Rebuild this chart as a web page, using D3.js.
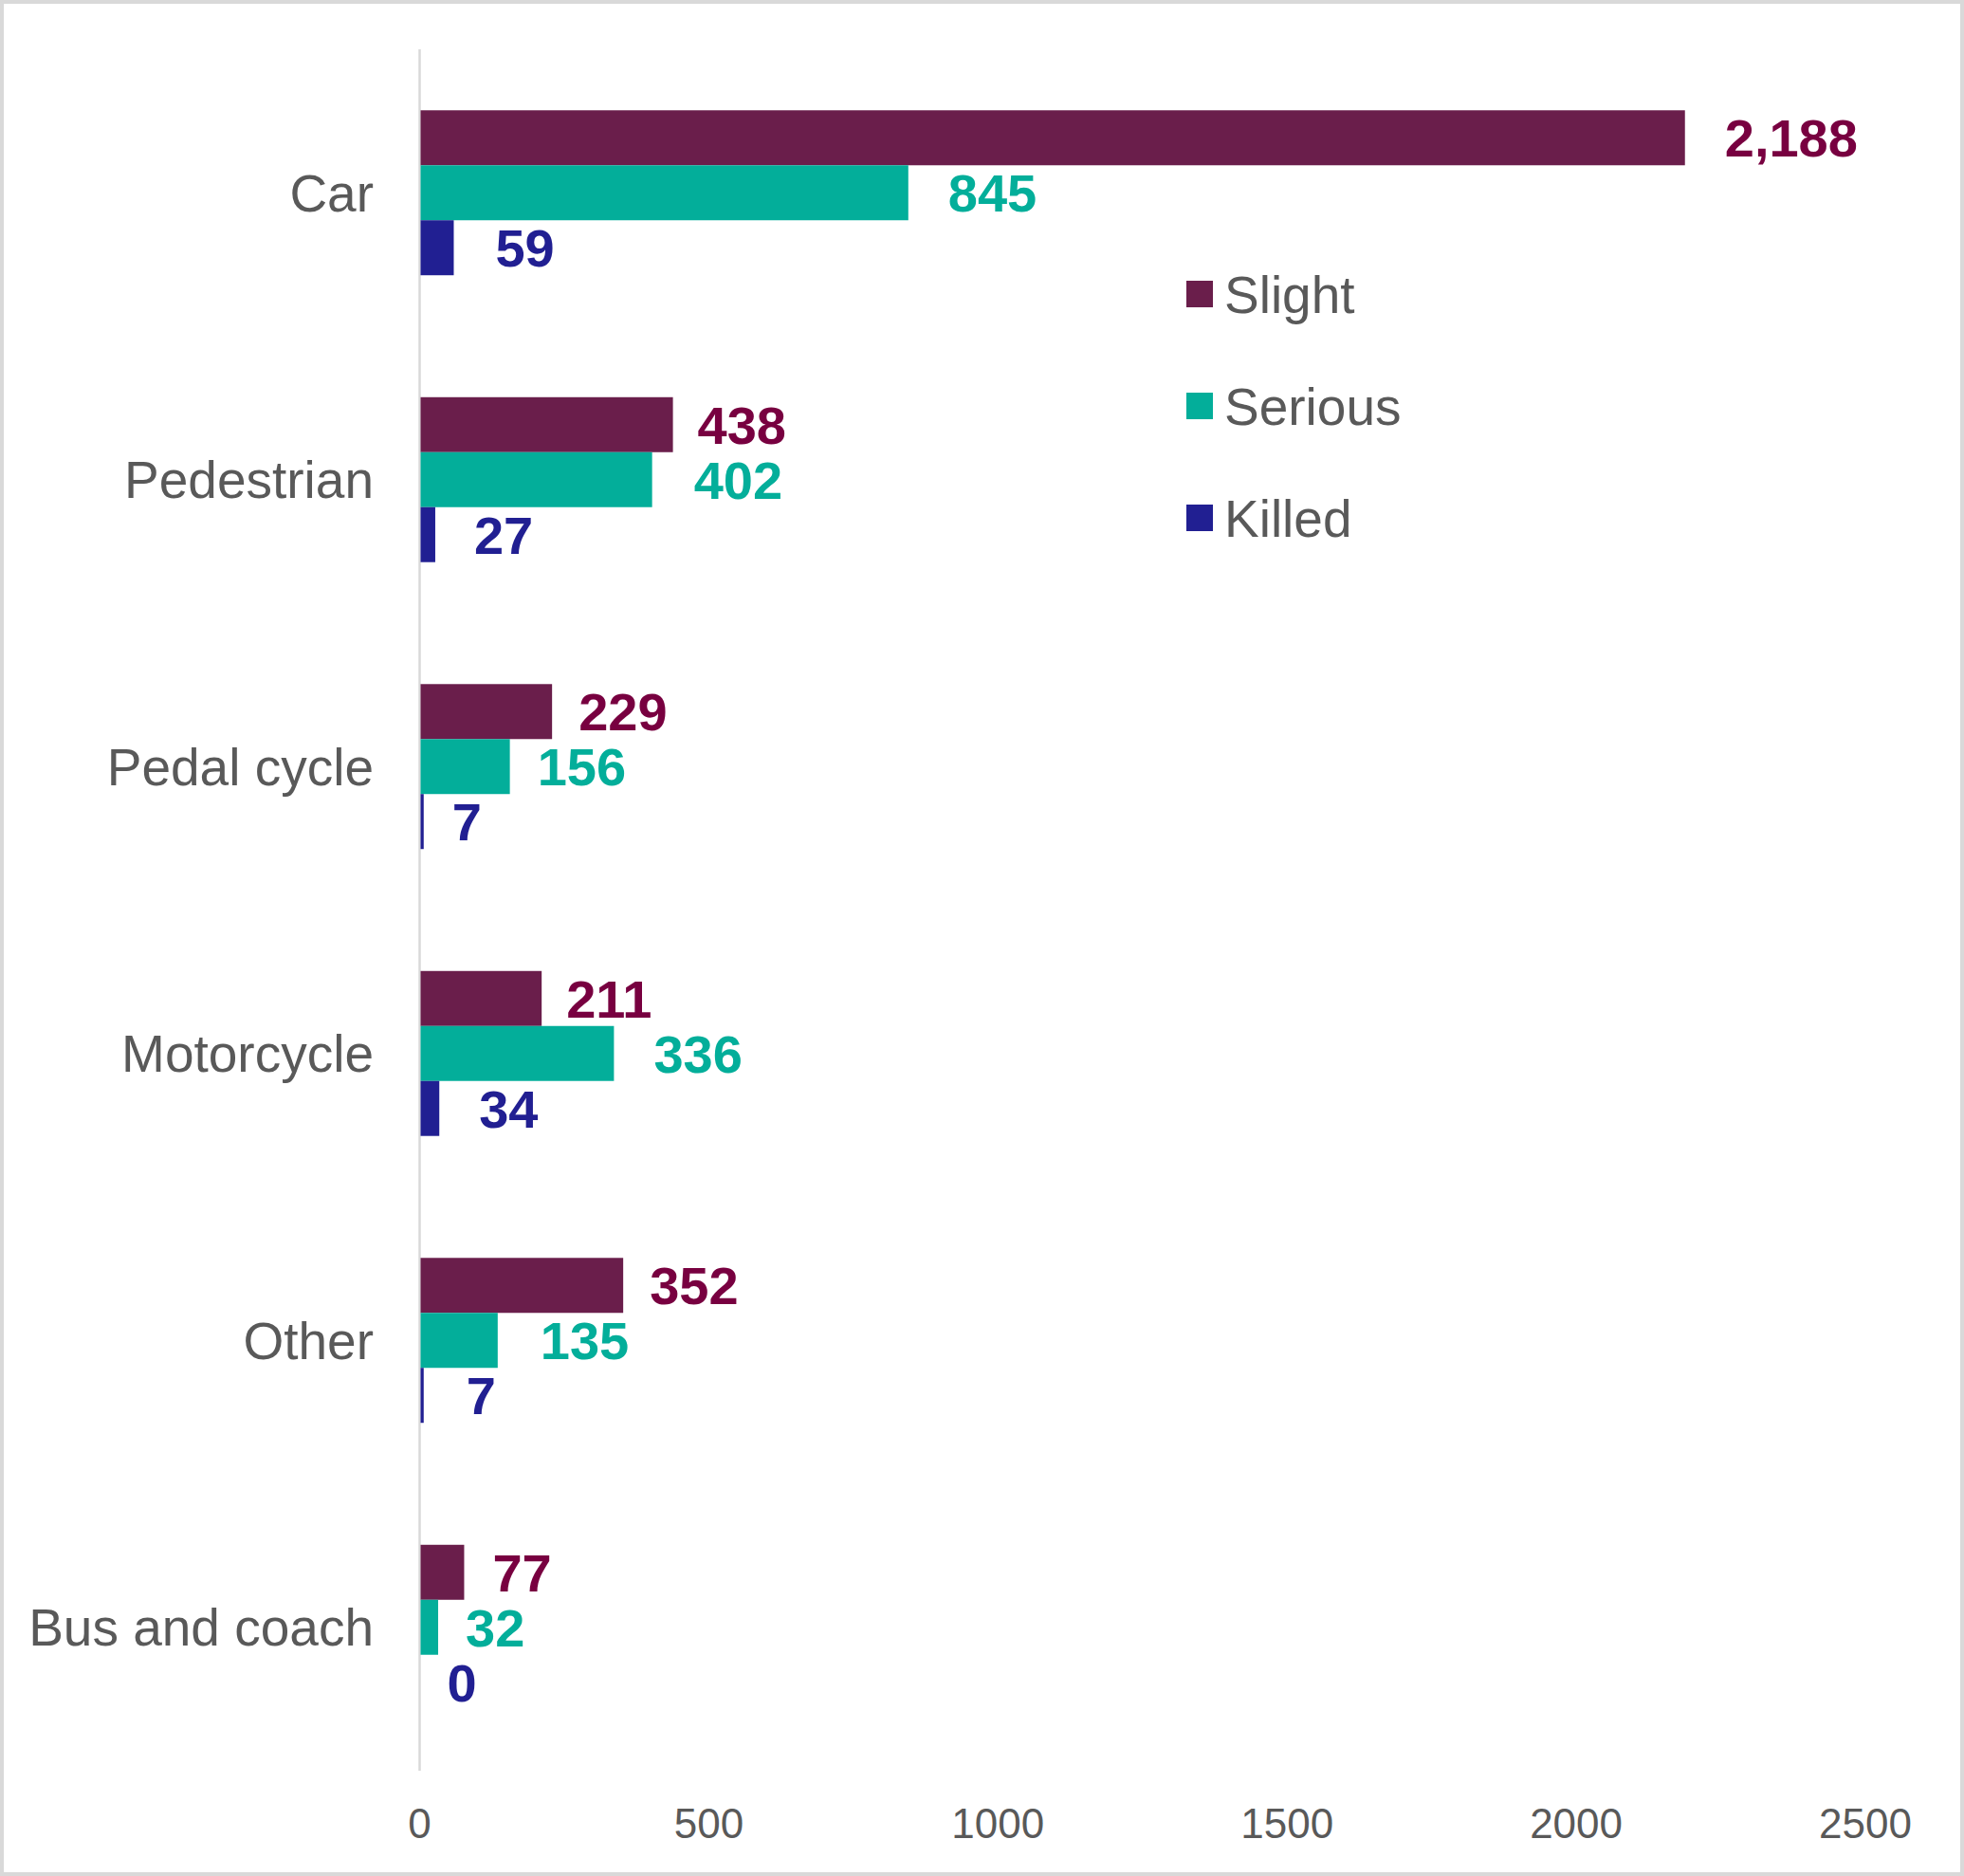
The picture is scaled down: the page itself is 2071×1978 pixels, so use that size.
<!DOCTYPE html>
<html>
<head>
<meta charset="utf-8">
<script src="https://cdn.jsdelivr.net/npm/d3@7"></script>
<style>
  body { margin: 0; background: #fff; }
  svg text { font-family: "Liberation Sans", Arial, sans-serif; }
</style>
</head>
<body>
<div id="chart"></div>
<script>
// casualty counts by road user type
const categories = ["Car", "Pedestrian", "Pedal cycle", "Motorcycle", "Other", "Bus and coach"];
const seriesNames = ["Slight", "Serious", "Killed"];
const slight  = [2188, 438, 229, 211, 352, 77];
const serious = [845, 402, 156, 336, 135, 32];
const killed  = [59, 27, 7, 34, 7, 0];
const xTicks = [0, 500, 1000, 1500, 2000, 2500];

// label gap after each bar end (hand placed in the original)
const labelGap = [
  [42, 42, 44],
  [26, 44, 41],
  [28, 29, 30],
  [26, 42, 42],
  [28, 45, 45],
  [30, 29, 29]
];

const W = 2071, H = 1978;
const barColor = {Slight: "#6a1e4b", Serious: "#03ae9a", Killed: "#211f92"};
const labelColor = {Slight: "#780040", Serious: "#03ae9a", Killed: "#211f92"};

const values = {Slight: slight, Serious: serious, Killed: killed};
const rows = categories.map((c, i) => ({
  cat: c,
  vals: seriesNames.map((s, j) => ({series: s, value: values[s][i], gap: labelGap[i][j]}))
}));

const svg = d3.select("#chart").append("svg")
    .attr("width", W)
    .attr("height", H);

// outer frame
svg.append("rect")
    .attr("x", 2).attr("y", 2)
    .attr("width", W - 4).attr("height", H - 4)
    .attr("fill", "#fff")
    .attr("stroke", "#d9d9d9")
    .attr("stroke-width", 4);

const x = d3.scaleLinear().domain([0, 2500]).range([442.5, 1967]);
const y = d3.scaleBand().domain(categories).range([52, 1867])
    .paddingInner(0.425).paddingOuter(0.2125);
const ySub = d3.scaleBand().domain(seriesNames).range([0, y.bandwidth()]);

// x tick labels (no axis line in the original)
svg.append("g")
  .selectAll("text")
  .data(xTicks)
  .join("text")
    .attr("x", d => x(d))
    .attr("y", 1938)
    .attr("text-anchor", "middle")
    .style("font-size", "44px")
    .style("fill", "#595959")
    .text(d => d);

// vertical axis line
svg.append("line")
    .attr("x1", x(0)).attr("x2", x(0))
    .attr("y1", 52).attr("y2", 1867)
    .attr("stroke", "#d9d9d9")
    .attr("stroke-width", 2.5);

// category labels
svg.append("g")
  .selectAll("text")
  .data(categories)
  .join("text")
    .attr("x", 394)
    .attr("y", d => y(d) + y.bandwidth() / 2)
    .attr("dy", "0.35em")
    .attr("text-anchor", "end")
    .style("font-size", "55px")
    .style("fill", "#595959")
    .text(d => d);

const groups = svg.append("g")
  .selectAll("g")
  .data(rows)
  .join("g")
    .attr("transform", d => `translate(0,${y(d.cat)})`);

groups.selectAll("rect")
  .data(d => d.vals)
  .join("rect")
    .attr("x", x(0) + 1)
    .attr("y", d => ySub(d.series))
    .attr("width", d => Math.max(0, x(d.value) - x(0) - 1))
    .attr("height", ySub.bandwidth())
    .attr("fill", d => barColor[d.series]);

groups.selectAll("text")
  .data(d => d.vals)
  .join("text")
    .attr("x", d => x(d.value) + d.gap)
    .attr("y", d => ySub(d.series) + ySub.bandwidth() / 2)
    .attr("dy", "0.36em")
    .style("font-size", "56px")
    .style("font-weight", "bold")
    .style("fill", d => labelColor[d.series])
    .text(d => d3.format(",")(d.value));

// legend
const legend = svg.append("g")
  .selectAll("g")
  .data(seriesNames)
  .join("g")
    .attr("transform", (d, i) => `translate(1251,${296 + i * 118})`);

legend.append("rect")
    .attr("width", 28).attr("height", 28)
    .attr("fill", d => barColor[d]);

legend.append("text")
    .attr("x", 40)
    .attr("y", 14)
    .attr("dy", "0.36em")
    .style("font-size", "55px")
    .style("fill", "#595959")
    .text(d => d);
</script>
</body>
</html>
